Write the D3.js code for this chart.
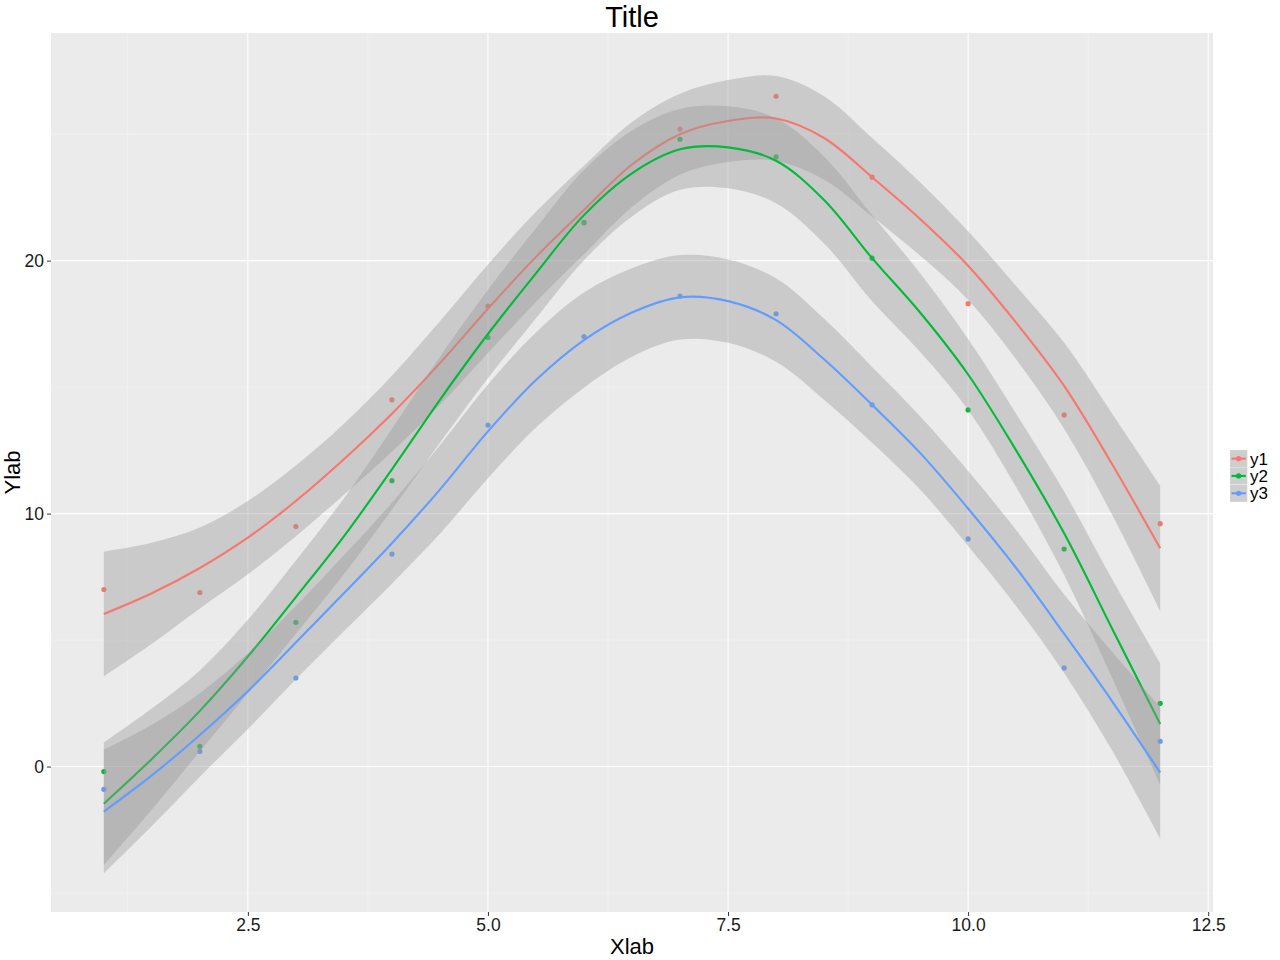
<!DOCTYPE html>
<html><head><meta charset="utf-8">
<script src="https://cdn.jsdelivr.net/npm/d3@7"></script>
<style>body{margin:0;background:#fff}svg{display:block}text{font-family:"Liberation Sans",Arial,Helvetica,sans-serif}</style>
</head><body><svg id="c" width="1280" height="960"></svg>
<script>
// Observed data points
const xPts = [1,2,3,4,5,6,7,8,9,10,11,12];
const y1Pts = [7.0,6.88,9.49,14.5,18.2,21.5,25.2,26.5,23.3,18.3,13.9,9.6];
const y2Pts = [-0.2,0.8,5.7,11.3,16.96,21.5,24.8,24.1,20.1,14.1,8.6,2.5];
const y3Pts = [-0.9,0.6,3.5,8.4,13.5,17.0,18.6,17.9,14.3,9.0,3.9,1.0];
// Smoothed fits at x = 1, 1.5, ..., 12
const xFit = [1,1.5,2,2.5,3,3.5,4,4.5,5,5.5,6,6.5,7,7.5,8,8.5,9,9.5,10,10.5,11,11.5,12];
const y1Fit = [6.03,6.85,7.85,9.05,10.5,12.15,13.95,15.95,18.1,20.15,22.0,23.8,25.0,25.52,25.62,24.85,23.3,21.65,19.8,17.55,15.05,11.95,8.63];
const y2Fit = [-1.47,0.3,2.2,4.35,6.7,9.1,11.75,14.5,17.1,19.5,21.8,23.45,24.4,24.48,23.95,22.4,20.1,17.95,15.5,12.5,9.22,5.45,1.68];
const y3Fit = [-1.78,-0.35,1.25,2.98,4.9,6.85,8.83,10.95,13.25,15.28,16.86,17.95,18.55,18.4,17.65,16.1,14.3,12.4,10.2,7.85,5.25,2.58,-0.24];
// Confidence band half-widths
const y1Half = [2.47,2.0,1.6,1.45,1.4,1.4,1.5,1.65,1.75,1.78,1.75,1.68,1.6,1.62,1.68,1.65,1.55,1.45,1.36,1.45,1.7,2.0,2.48];
const y2Half = [2.43,2.0,1.6,1.45,1.45,1.5,1.6,1.7,1.75,1.78,1.78,1.7,1.6,1.62,1.68,1.72,1.7,1.55,1.4,1.45,1.65,1.95,2.41];
const y3Half = [2.44,2.0,1.65,1.5,1.45,1.5,1.6,1.75,1.85,1.88,1.88,1.75,1.67,1.65,1.65,1.6,1.5,1.45,1.48,1.5,1.55,1.95,2.6];
const seriesNames = ["y1","y2","y3"];
const seriesColors = ["#F8766D","#00BA38","#619CFF"];
const xMajor = [2.5,5.0,7.5,10.0,12.5];
const xMinor = [1.25,3.75,6.25,8.75,11.25];
const yMajor = [0,10,20];
const yMinor = [-5,5,15,25];

const svg = d3.select("#c");
const L = 51, R = 1213, T = 33, B = 912;
const x = d3.scaleLinear().domain([0.45,12.55]).range([L,R]);
const y = d3.scaleLinear().domain([-5.75,29.0]).range([B,T]);

svg.append("rect").attr("x",L).attr("y",T).attr("width",R-L).attr("height",B-T).attr("fill","#EBEBEB");
const grid = svg.append("g");
xMinor.forEach(v=>grid.append("line").attr("x1",x(v)).attr("x2",x(v)).attr("y1",T).attr("y2",B).attr("stroke","#F5F5F5").attr("stroke-width",0.6));
yMinor.forEach(v=>grid.append("line").attr("y1",y(v)).attr("y2",y(v)).attr("x1",L).attr("x2",R).attr("stroke","#F5F5F5").attr("stroke-width",0.6));
xMajor.forEach(v=>grid.append("line").attr("x1",x(v)).attr("x2",x(v)).attr("y1",T).attr("y2",B).attr("stroke","#fff").attr("stroke-width",1.1));
yMajor.forEach(v=>grid.append("line").attr("y1",y(v)).attr("y2",y(v)).attr("x1",L).attr("x2",R).attr("stroke","#fff").attr("stroke-width",1.1));

const pts = [y1Pts,y2Pts,y3Pts];
const fits = [y1Fit,y2Fit,y3Fit];
const halves = [y1Half,y2Half,y3Half];

// points (drawn first, under the smooth layer)
pts.forEach((arr,k)=>{
  svg.append("g").selectAll("circle").data(arr).join("circle")
    .attr("cx",(d,i)=>x(xPts[i])).attr("cy",d=>y(d)).attr("r",2.6).attr("fill",seriesColors[k]);
});

const curve = d3.curveCatmullRom.alpha(0.5);
fits.forEach((f,k)=>{
  const rows = xFit.map((xv,i)=>({x:xv,f:f[i],lo:f[i]-halves[k][i],hi:f[i]+halves[k][i]}));
  svg.append("path").datum(rows)
    .attr("d",d3.area().x(d=>x(d.x)).y0(d=>y(d.lo)).y1(d=>y(d.hi)).curve(curve))
    .attr("fill","#999999").attr("fill-opacity",0.4);
  svg.append("path").datum(rows)
    .attr("d",d3.line().x(d=>x(d.x)).y(d=>y(d.f)).curve(curve))
    .attr("fill","none").attr("stroke",seriesColors[k]).attr("stroke-width",2.1);
});

// axes
const xAxis = d3.axisBottom(x).tickValues(xMajor).tickFormat(d3.format(".1f")).tickSize(4).tickPadding(3);
const gx = svg.append("g").attr("transform",`translate(0,${B})`).call(xAxis);
const yAxis = d3.axisLeft(y).tickValues(yMajor).tickFormat(d3.format("d")).tickSize(4).tickPadding(3);
const gy = svg.append("g").attr("transform",`translate(${L},0)`).call(yAxis);
[gx,gy].forEach(g=>{
  g.select(".domain").remove();
  g.selectAll(".tick line").attr("stroke","#333").attr("stroke-width",1);
  g.selectAll(".tick text").attr("fill","#1a1a1a").attr("font-size",17.5).attr("font-family","Liberation Sans, Arial, sans-serif");
});

svg.append("text").attr("x",(L+R)/2).attr("y",27).attr("text-anchor","middle").attr("font-size",29).attr("fill","#000").text("Title");
svg.append("text").attr("x",(L+R)/2).attr("y",954).attr("text-anchor","middle").attr("font-size",22).attr("fill","#000").text("Xlab");
svg.append("text").attr("transform",`translate(20,${(T+B)/2}) rotate(-90)`).attr("text-anchor","middle").attr("font-size",22).attr("fill","#000").text("Ylab");

// legend
const lg = svg.append("g").attr("transform","translate(1230,450)");
seriesNames.forEach((n,k)=>{
  const g = lg.append("g").attr("transform",`translate(0,${k*17.3})`);
  g.append("rect").attr("width",17.3).attr("height",17.3).attr("fill","#F2F2F2").attr("stroke","#fff").attr("stroke-width",0.5);
  g.append("rect").attr("width",17.3).attr("height",17.3).attr("fill","#999999").attr("fill-opacity",0.4);
  g.append("line").attr("x1",1.5).attr("x2",15.8).attr("y1",8.65).attr("y2",8.65).attr("stroke",seriesColors[k]).attr("stroke-width",2.1);
  g.append("circle").attr("cx",8.65).attr("cy",8.65).attr("r",2.6).attr("fill",seriesColors[k]);
  g.append("text").attr("x",20).attr("y",14.5).attr("font-size",17).attr("fill","#000").text(n);
});
</script></body></html>
